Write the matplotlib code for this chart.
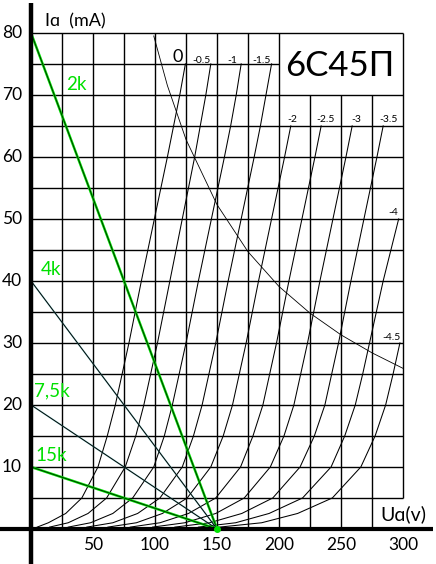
import numpy as np
import matplotlib
matplotlib.use("Agg")
import matplotlib.pyplot as plt

plt.rcParams["font.family"] = ["Lato", "DejaVu Sans"]
plt.rcParams["font.weight"] = "normal"

# anode current points (mA) where each curve was read
ia_pts = [0.3, 1, 2.5, 5, 10, 15, 20, 25, 30, 40, 50, 60, 65, 70, 75]

# anode voltage (V) of each grid-voltage curve at the points above
ua_g0 = [5, 14, 28, 41, 54, 61.5, 68, 73.5, 79, 89, 99.5, 110, 115, 120, 124.5]
ua_g05 = [15, 30, 46, 61, 76, 84.5, 91, 96.5, 102, 112, 122, 132, 136.5, 141, 145]
ua_g1 = [30, 48, 66, 82, 99, 107.5, 114, 119.5, 125, 135, 145.5, 156, 161, 165.5, 169.5]
ua_g15 = [45, 66, 86, 104, 122, 131, 138, 143.5, 149, 159, 169.5, 180, 185, 189.5, 194]
ua_g2 = [62, 85, 106, 126, 145, 155, 162.5, 168, 173.5, 183.5, 194, 204.5, 209.5]
ua_g25 = [80, 104, 127, 149, 169, 179, 187, 192.5, 198, 208, 218.5, 229, 234]
ua_g3 = [98, 124, 149, 172, 193, 204, 212, 217.5, 223, 233, 243.5, 254, 259]
ua_g35 = [116, 144, 170, 195, 217, 228.5, 237, 242.5, 248, 258, 268.5, 279, 284]
ua_g4 = [135, 165, 192, 219, 242, 253, 261.5, 267.5, 273, 284, 296.5]
ua_g45 = [152, 186, 215, 243, 266, 277.5, 286, 292, 297.5]

curves = [ua_g0, ua_g05, ua_g1, ua_g15, ua_g2, ua_g25, ua_g3, ua_g35, ua_g4, ua_g45]
grid_labels = ["0", "-0.5", "-1", "-1.5", "-2", "-2.5", "-3", "-3.5", "-4", "-4.5"]

# max dissipation curve
pd_ua = [99, 110, 125, 150, 175, 200, 225, 250, 275, 300]
pd_ia = [79.5, 71.5, 62.8, 52.3, 44.7, 39.1, 34.8, 31.3, 28.4, 25.9]

# load lines: start current (mA) at Ua=0, all end at 150 V
load_ia0 = [80, 40, 20, 10]
load_names = ["2k", "4k", "7,5k", "15k"]
supply_v = 150

x_ticks = [50, 100, 150, 200, 250, 300]
y_ticks = [10, 20, 30, 40, 50, 60, 70, 80]

fig = plt.figure(figsize=(4.36, 5.64), dpi=100)
ax = fig.add_axes([0, 0, 1, 1])
ax.set_xlim(-25, 326.6)
ax.set_ylim(-5.65, 85.3)
ax.axis("off")

gk = dict(color="black", lw=1.0, solid_capstyle="butt")
# horizontal grid
for y in range(5, 85, 5):
    if y == 75:
        ax.plot([0, 200], [y, y], **gk)
    else:
        ax.plot([0, 300], [y, y], **gk)
# vertical grid
for x in range(25, 325, 25):
    if x in (225, 250, 275):
        ax.plot([x, x], [0, 70], **gk)
    elif x == 300:
        ax.plot([x, x], [5, 80], **gk)
    else:
        ax.plot([x, x], [0, 80], **gk)

# tube curves
for ua in curves:
    ax.plot(ua, ia_pts[:len(ua)], color="black", lw=0.75)

# dissipation hyperbola
ax.plot(pd_ua, pd_ia, color="black", lw=0.6)

# load lines
green = "#00e000"
for i0, name in zip(load_ia0, load_names):
    if name in ("2k", "15k"):
        ax.plot([0, supply_v], [i0, 0], color=green, lw=1.8)
        ax.plot([0, supply_v], [i0, 0], color="black", lw=0.5)
    else:
        ax.plot([0, supply_v], [i0, 0], color="#40c0c0", lw=1.2, alpha=0.5)
        ax.plot([0, supply_v], [i0, 0], color="black", lw=0.7)

# axes
ax.plot([0, 0], [84.8, -5.65], color="black", lw=3.2, solid_capstyle="butt")
ax.plot([-25, 324], [0, 0], color="black", lw=3.0, solid_capstyle="butt")
ax.plot([supply_v], [0], "o", color=green, ms=4)

for y in y_ticks:
    ax.text(-7.3, y, str(y), ha="right", va="center", fontsize=12.5)
for x in x_ticks:
    ax.text(x, -2.6, str(x), ha="center", va="center", fontsize=12.5)

ax.text(11.3, 81.9, "I\u0251  (mA)", ha="left", va="center", fontsize=13)
ax.text(281.5, 2.3, "U\u0251(v)", ha="left", va="center", fontsize=14)
ax.text(249.2, 74.7, "6C45\u041f", ha="center", va="center", fontsize=25)

lab_pos = [(118.5, 76.1), (137.7, 75.6), (162.7, 75.6), (186.3, 75.6),
           (211, 66), (237.9, 66), (262.7, 66), (288.1, 66),
           (292.2, 51), (290.9, 30.9)]
for (lx, ly), s in zip(lab_pos, grid_labels):
    ax.text(lx, ly, s, ha="center", va="center", fontsize=13 if s == "0" else 7.5)

load_pos = [(36.3, 71.6), (16.1, 41.8), (16.9, 22.3), (16.1, 11.8)]
for (lx, ly), s in zip(load_pos, load_names):
    ax.text(lx, ly, s, ha="center", va="center", fontsize=13.5, color=green)

fig.savefig("out.png", dpi=100)
